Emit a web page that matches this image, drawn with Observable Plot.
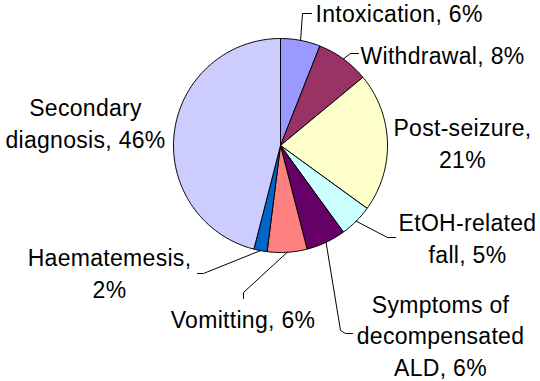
<!DOCTYPE html>
<html><head><meta charset="utf-8">
<script src="https://cdn.jsdelivr.net/npm/d3@7"></script>
<script src="https://cdn.jsdelivr.net/npm/@observablehq/plot@0.6"></script>
<style>body{margin:0;background:#fff} svg{display:block}</style>
</head><body><div id="chart"></div>
<script>
const categories = ["Intoxication","Withdrawal","Post-seizure","EtOH-related fall","Symptoms of decompensated ALD","Vomitting","Haematemesis","Secondary diagnosis"];
const values = [6, 8, 21, 5, 6, 6, 2, 46];
const labels = ["Intoxication, 6%","Withdrawal, 8%","Post-seizure,\n21%","EtOH-related\nfall, 5%","Symptoms of\ndecompensated\nALD, 6%","Vomitting, 6%","Haematemesis,\n2%","Secondary\ndiagnosis, 46%"];
const colors = ["#9999FF","#993366","#FFFFCC","#CCFFFF","#660066","#FF8080","#0066CC","#CCCCFF"];

// layout: pixel offsets from the pie centre
const R = 107;
const labelPos = [[35,-124,"start"],[80,-82,"start"],[182,22,"middle"],[187,117,"middle"],[160,230,"middle"],[-37.5,182,"middle"],[-171,152,"middle"],[-195,2,"middle"]];
const leaderPts = [[[22,-132],[31,-132]],[[70,-92],[78,-92]],[],[[107,92],[115,92]],[[60,185],[65,188],[72,188]],[[-37,147],[-37,153]],[[-77,128],[-83,128]],[]];

const total = d3.sum(values);
let acc = 0;
const slices = values.map((v, i) => {
  const a0 = acc / total * 2 * Math.PI; acc += v;
  const a1 = acc / total * 2 * Math.PI;
  return {i, a0, a1, mid: (a0 + a1) / 2};
});
const px = a => R * Math.sin(a), py = a => -R * Math.cos(a);
const marks = [];
slices.forEach(s => {
  const n = Math.max(2, Math.ceil((s.a1 - s.a0) / (Math.PI / 180)));
  const pts = [[0, 0]];
  for (let k = 0; k <= n; k++) { const a = s.a0 + (s.a1 - s.a0) * k / n; pts.push([px(a), py(a)]); }
  pts.push([0, 0]);
  marks.push(Plot.line(pts, {x: d => d[0], y: d => d[1], fill: colors[s.i], stroke: "#000", strokeWidth: 1, strokeLinejoin: "round"}));
});
slices.forEach(s => {
  if (!leaderPts[s.i].length) return;
  const pts = [[px(s.mid), py(s.mid)], ...leaderPts[s.i]];
  marks.push(Plot.line(pts, {x: d => d[0], y: d => d[1], stroke: "#000", strokeWidth: 1}));
});
const textData = labels.map((t, i) => ({t, x: labelPos[i][0], y: labelPos[i][1], anchor: labelPos[i][2]}));
const textOpts = {x: "x", y: "y", text: "t", fontSize: 23, fontFamily: "Liberation Sans, Arial, sans-serif", lineAnchor: "bottom", lineHeight: 1.35, fill: "#000"};
marks.push(Plot.text(textData.filter(d => d.anchor === "start"), {...textOpts, textAnchor: "start"}));
marks.push(Plot.text(textData.filter(d => d.anchor === "middle"), {...textOpts, textAnchor: "middle"}));

const chart = Plot.plot({
  width: 540, height: 381, margin: 0,
  x: {domain: [-280, 260], range: [0, 540], axis: null},
  y: {domain: [-145, 236], range: [0, 381], axis: null},
  marks
});
chart.style.letterSpacing = "0.3px";
document.getElementById("chart").appendChild(chart);
</script>
</body></html>
